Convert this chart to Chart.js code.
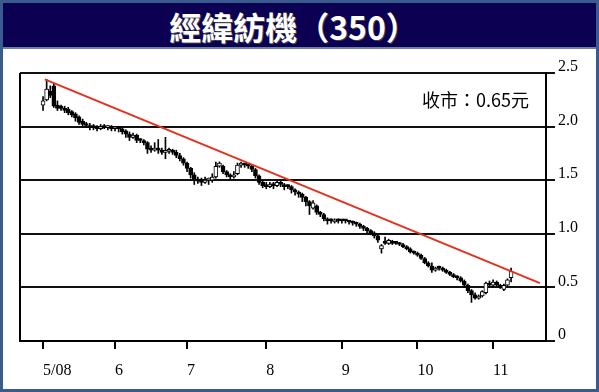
<!DOCTYPE html>
<html>
<head>
<meta charset="utf-8">
<script src="https://cdn.jsdelivr.net/npm/chart.js@4.4.1/dist/chart.umd.min.js"></script>
<style>
    html, body { margin: 0; padding: 0; background: #fff; }
    .frame {
        position: absolute; left: 0; top: 0; width: 599px; height: 392px;
        box-sizing: border-box; border: 3px solid #3a5b8e; background: #fff;
    }
    .title {
        position: absolute; left: 0; top: 0; width: 593px; height: 46px;
        background: #0b0052; border-bottom: 2px solid #6d80a8;
        color: #fff; text-align: center;
        font: bold 32px "Noto Sans CJK TC", "Noto Sans CJK SC", sans-serif;
        line-height: 46px; text-shadow: 1px 1px 0 #444;
        padding-right: 12px; box-sizing: border-box;
    }
    .plot { position: absolute; left: 0; top: 49px; width: 593px; height: 337px; }
</style>
</head>
<body>
<div class="frame">
    <div class="title">經緯紡機（350）</div>
    <div class="plot"><canvas id="stockChart" width="593" height="337"></canvas></div>
</div>
<script>
// month labels on the x axis and the trading day each month starts at
const monthLabels = ['5/08', '6', '7', '8', '9', '10', '11'];
const monthStarts = [0, 20, 40, 62, 83, 104, 125];

// daily prices (HK$), one entry per trading day from early May 2008
const opens = [
    2.20, 2.25, 2.33, 2.38, 2.20, 2.18, 2.17, 2.16, 2.14, 2.12,
    2.09, 2.05, 2.02, 2.01, 1.99, 2.00, 1.98, 2.00, 1.99, 2.00,
    1.98, 1.99, 1.98, 1.96, 1.93, 1.90, 1.92, 1.87, 1.87, 1.85,
    1.79, 1.78, 1.80, 1.78, 1.76, 1.77, 1.78, 1.76, 1.73, 1.70,
    1.66, 1.61, 1.55, 1.51, 1.49, 1.48, 1.50, 1.50, 1.53, 1.63,
    1.63, 1.58, 1.55, 1.53, 1.56, 1.64, 1.65, 1.64, 1.63, 1.60,
    1.54, 1.48, 1.45, 1.44, 1.46, 1.45, 1.48, 1.46, 1.44, 1.44,
    1.41, 1.39, 1.37, 1.34, 1.30, 1.24, 1.26, 1.20, 1.18, 1.14,
    1.12, 1.11, 1.13, 1.12, 1.12, 1.12, 1.11, 1.10, 1.09, 1.07,
    1.05, 1.03, 1.01, 0.98, 0.86, 0.92, 0.91, 0.93, 0.91, 0.91,
    0.90, 0.88, 0.86, 0.83, 0.82, 0.80, 0.77, 0.73, 0.70, 0.66,
    0.68, 0.68, 0.66, 0.64, 0.62, 0.60, 0.59, 0.56, 0.52, 0.47,
    0.43, 0.40, 0.42, 0.45, 0.54, 0.52, 0.55, 0.52, 0.48, 0.52,
    0.59
];
const highs = [
    2.28, 2.44, 2.38, 2.40, 2.24, 2.20, 2.19, 2.18, 2.15, 2.13,
    2.10, 2.07, 2.04, 2.03, 2.02, 2.01, 2.02, 2.02, 2.01, 2.01,
    2.00, 2.00, 1.99, 1.97, 1.95, 1.94, 1.93, 1.89, 1.88, 1.86,
    1.82, 1.85, 1.88, 1.80, 1.90, 1.80, 1.79, 1.78, 1.75, 1.71,
    1.67, 1.62, 1.57, 1.53, 1.52, 1.53, 1.52, 1.56, 1.67, 1.67,
    1.64, 1.59, 1.56, 1.58, 1.66, 1.67, 1.66, 1.65, 1.64, 1.61,
    1.55, 1.50, 1.48, 1.48, 1.48, 1.49, 1.49, 1.47, 1.46, 1.45,
    1.42, 1.40, 1.38, 1.35, 1.31, 1.31, 1.27, 1.21, 1.19, 1.15,
    1.14, 1.14, 1.14, 1.13, 1.13, 1.12, 1.12, 1.11, 1.10, 1.08,
    1.06, 1.04, 1.02, 0.99, 0.90, 0.97, 0.95, 0.94, 0.92, 0.92,
    0.91, 0.89, 0.87, 0.84, 0.83, 0.81, 0.78, 0.74, 0.73, 0.69,
    0.70, 0.69, 0.67, 0.65, 0.63, 0.61, 0.60, 0.57, 0.53, 0.48,
    0.45, 0.43, 0.47, 0.55, 0.56, 0.57, 0.56, 0.53, 0.53, 0.58,
    0.68
];
const lows = [
    2.15, 2.24, 2.27, 2.18, 2.15, 2.15, 2.13, 2.11, 2.09, 2.05,
    2.02, 2.00, 1.99, 1.97, 1.97, 1.96, 1.97, 1.98, 1.97, 1.96,
    1.96, 1.95, 1.93, 1.90, 1.87, 1.89, 1.85, 1.85, 1.83, 1.75,
    1.76, 1.77, 1.75, 1.74, 1.70, 1.75, 1.74, 1.71, 1.68, 1.64,
    1.58, 1.52, 1.46, 1.47, 1.45, 1.47, 1.46, 1.48, 1.52, 1.62,
    1.56, 1.53, 1.51, 1.52, 1.55, 1.62, 1.62, 1.61, 1.58, 1.52,
    1.46, 1.43, 1.42, 1.43, 1.42, 1.44, 1.44, 1.41, 1.42, 1.38,
    1.36, 1.34, 1.30, 1.26, 1.18, 1.23, 1.18, 1.16, 1.12, 1.09,
    1.10, 1.10, 1.10, 1.10, 1.10, 1.09, 1.08, 1.07, 1.05, 1.03,
    1.01, 0.99, 0.96, 0.92, 0.82, 0.90, 0.90, 0.90, 0.90, 0.89,
    0.87, 0.85, 0.82, 0.81, 0.79, 0.76, 0.72, 0.69, 0.64, 0.65,
    0.66, 0.65, 0.63, 0.61, 0.59, 0.57, 0.55, 0.50, 0.45, 0.36,
    0.39, 0.39, 0.41, 0.44, 0.50, 0.50, 0.51, 0.49, 0.47, 0.51,
    0.55
];
const closes = [
    2.24, 2.35, 2.29, 2.19, 2.17, 2.17, 2.15, 2.13, 2.11, 2.08,
    2.04, 2.02, 2.01, 1.99, 1.99, 1.98, 2.00, 1.99, 2.00, 1.98,
    1.99, 1.98, 1.95, 1.93, 1.90, 1.92, 1.87, 1.87, 1.85, 1.79,
    1.78, 1.80, 1.78, 1.76, 1.77, 1.78, 1.76, 1.73, 1.70, 1.66,
    1.61, 1.55, 1.51, 1.49, 1.48, 1.50, 1.51, 1.53, 1.63, 1.66,
    1.58, 1.55, 1.53, 1.55, 1.64, 1.65, 1.64, 1.63, 1.60, 1.54,
    1.48, 1.45, 1.44, 1.46, 1.45, 1.48, 1.46, 1.44, 1.44, 1.41,
    1.39, 1.37, 1.34, 1.30, 1.26, 1.29, 1.20, 1.18, 1.14, 1.12,
    1.12, 1.13, 1.12, 1.12, 1.12, 1.11, 1.10, 1.09, 1.07, 1.05,
    1.03, 1.01, 0.98, 0.94, 0.89, 0.91, 0.94, 0.91, 0.91, 0.90,
    0.88, 0.86, 0.83, 0.82, 0.80, 0.77, 0.73, 0.70, 0.66, 0.68,
    0.68, 0.66, 0.64, 0.62, 0.60, 0.59, 0.56, 0.52, 0.47, 0.43,
    0.40, 0.42, 0.46, 0.54, 0.52, 0.55, 0.52, 0.50, 0.52, 0.57,
    0.65
];

// downward trend line (day, price)
const trendDays = [0.5, 138];
const trendPrices = [2.44, 0.54];

const yTicks = [0, 0.5, 1.0, 1.5, 2.0, 2.5];
const closeLabel = '收市：0.65元';

const days = closes.map((_, i) => i);
const wickData = days.map(i => ({ x: i, y: [lows[i], highs[i]] }));
const bodyData = days.map(i => ({ x: i, y: [Math.min(opens[i], closes[i]), Math.max(opens[i], closes[i])] }));
const bodyFill = days.map(i => closes[i] > opens[i] ? '#ffffff' : '#000000');

// left border of the plot box + closing price note
const framePlugin = {
    id: 'framePlugin',
    afterDraw(chart) {
        const { ctx, chartArea } = chart;
        ctx.save();
        ctx.strokeStyle = '#000';
        ctx.lineWidth = 2;
        ctx.beginPath();
        ctx.moveTo(chartArea.left, chartArea.top);
        ctx.lineTo(chartArea.left, chartArea.bottom);
        ctx.stroke();
        ctx.fillStyle = '#000';
        ctx.font = '18px "Noto Sans CJK TC", sans-serif';
        ctx.textAlign = 'right';
        ctx.textBaseline = 'middle';
        ctx.fillText(closeLabel, chartArea.right - 17, chartArea.top + 27);
        ctx.restore();
    }
};

const ctx = document.getElementById('stockChart').getContext('2d');
new Chart(ctx, {
    type: 'bar',
    data: {
        datasets: [{
            type: 'line',
            data: trendDays.map((d, i) => ({ x: d, y: trendPrices[i] })),
            borderColor: '#e3311f',
            borderWidth: 2,
            pointRadius: 0,
            order: 0
        }, {
            label: 'body',
            data: bodyData,
            backgroundColor: bodyFill,
            borderColor: '#000',
            borderWidth: 1,
            borderSkipped: false,
            barThickness: 4,
            minBarLength: 2,
            grouped: false,
            order: 1
        }, {
            label: 'wick',
            data: wickData,
            backgroundColor: '#000',
            barThickness: 1,
            grouped: false,
            order: 2
        }]
    },
    options: {
        responsive: false,
        animation: false,
        layout: { padding: { left: 17, top: 21, right: 0, bottom: 0 } },
        plugins: {
            legend: { display: false },
            tooltip: { enabled: false }
        },
        scales: {
            x: {
                type: 'linear',
                min: -6.4,
                max: 139.7,
                offset: false,
                afterBuildTicks: s => { s.ticks = monthStarts.map(v => ({ value: v })); },
                afterFit: s => { s.height = 48; },
                grid: {
                    offset: false,
                    drawOnChartArea: false,
                    drawTicks: true,
                    tickLength: 8,
                    color: '#000',
                    lineWidth: 2
                },
                border: { display: true, color: '#000', width: 2 },
                ticks: {
                    align: 'start',
                    padding: 12,
                    color: '#000',
                    font: { family: 'Liberation Serif', size: 16 },
                    callback: (v, i) => monthLabels[i]
                }
            },
            y: {
                position: 'right',
                min: 0,
                max: 2.5,
                afterBuildTicks: s => { s.ticks = yTicks.map(v => ({ value: v })); },
                afterFit: s => { s.width = 50; },
                grid: {
                    color: '#111',
                    lineWidth: 2,
                    tickLength: 9
                },
                border: { display: true, color: '#000', width: 2 },
                ticks: {
                    padding: 3,
                    labelOffset: -6,
                    color: '#000',
                    font: { family: 'Liberation Serif', size: 16 },
                    callback: v => v === 0 ? '0' : v.toFixed(1)
                }
            }
        }
    },
    plugins: [framePlugin]
});
</script>
</body>
</html>
